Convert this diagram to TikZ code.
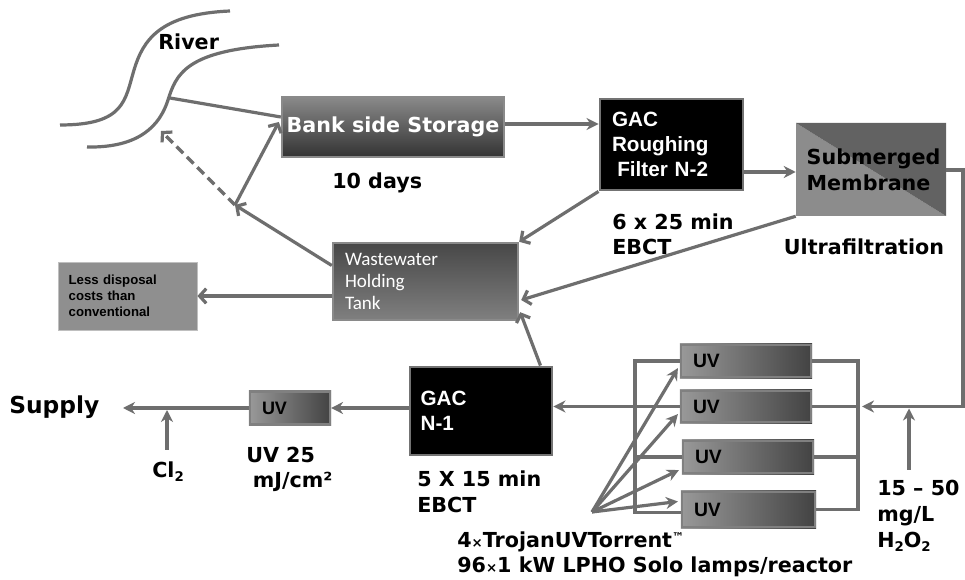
\documentclass[tikz,border=0pt]{standalone}
\usepackage{fontspec}
\usetikzlibrary{arrows.meta,calc,backgrounds}
\newfontfamily\dvs{DejaVu Sans}
\newfontfamily\lbs{Liberation Sans}
\newfontfamily\crl{Carlito}
\newcommand\subs[1]{\raisebox{-0.35ex}{\fontsize{10}{10}\selectfont #1}}
\definecolor{lc}{HTML}{6E6E6E}
\definecolor{bc}{HTML}{8A8A8A}
\definecolor{mlight}{HTML}{8C8C8C}
\definecolor{mdark}{HTML}{626262}
\tikzset{
  conn/.style={draw=lc, line width=2.4pt},
  arr/.style={conn, -{Stealth[length=9pt,width=9pt]}},
  barb/.style={conn, -{Straight Barb[length=5pt,width=11pt]}},
  lbl/.style={font=\dvs\bfseries\fontsize{15.5}{18.75}\selectfont, text=black, inner sep=0pt},
  gradbox/.style={draw=bc, line width=1.8pt, top color=bc, bottom color=black!80, inner sep=0pt},
  blackbox/.style={draw=black!55, line width=2.2pt, fill=black, text=white, inner sep=0pt,
    font=\lbs\bfseries\fontsize{15.5}{19}\selectfont, align=left},
  uvbox/.style={draw=black!50, line width=1.6pt,
    inner sep=0pt, inner xsep=9pt, minimum height=24pt, text width=79.5pt, align=left,
    text=black, font=\lbs\bfseries\fontsize{14.5}{18}\selectfont},
  uvshade/.style={left color=black!40, right color=black!74}
}
\begin{document}
\begin{tikzpicture}[x=0.75pt,y=-0.75pt]
\useasboundingbox (0,0) rectangle (965,580);

% river banks
\draw[lc, line width=2.4pt] (60,125) .. controls (125,125) and (125,100) .. (134,70)
   .. controls (143,40) and (160,14) .. (230,11);
\draw[lc, line width=2.4pt] (87,147) .. controls (140,148) and (160,125) .. (168,100)
   .. controls (176,75) and (185,50) .. (279,45);
\node[lbl, anchor=west] (river) at (158,42) {River};

% boxes
\node[gradbox, minimum width=166.5pt, minimum height=45pt, text=white,
  font=\dvs\bfseries\fontsize{15.5}{18}\selectfont] (bank) at (393,127) {Bank side Storage};
\node[lbl, anchor=west] (days) at (332,183) {10 days};

\node[blackbox, minimum height=68.25pt, inner xsep=9pt, text width=89.25pt] (gac2) at (671.5,144.5)
  {GAC\\Roughing\\\hspace*{4pt}Filter N-2};
\node[lbl, anchor=west, align=left] (ebct2) at (612,234.5) {6 x 25 min\\EBCT};

\node[minimum width=112.5pt, minimum height=69.75pt, inner sep=0pt, inner xsep=8pt,
  text width=96.5pt, align=left, text=black,
  font=\dvs\bfseries\fontsize{15.5}{19.5}\selectfont,
  path picture={
    \fill[mlight] (path picture bounding box.north west) -- (path picture bounding box.south west)
      -- (path picture bounding box.south east) -- cycle;
    \fill[mdark] (path picture bounding box.north west) -- (path picture bounding box.north east)
      -- (path picture bounding box.south east) -- cycle;}] (memb) at (871,169.5) {Submerged\\Membrane};
\node[lbl] (uf) at (864,247) {Ultrafiltration};

\node[draw=bc, line width=1.8pt, top color=black!72, bottom color=black!50, inner sep=0pt,
  minimum width=138.75pt, minimum height=57.75pt, inner xsep=9pt, text width=120.75pt,
  align=left, text=white, font=\crl\fontsize{14.3}{16.5}\selectfont] (tank) at (425.5,281.5)
  {Wastewater\\Holding\\Tank};

\node[draw=black!25, line width=0.6pt, fill=black!44, inner sep=0pt, minimum width=104.25pt,
  minimum height=51pt, inner xsep=8pt, text width=88.25pt, align=left, text=black,
  font=\lbs\bfseries\fontsize{9.9}{12}\selectfont] (less) at (127.5,296)
  {Less disposal\\costs than\\conventional};

\node[blackbox, minimum height=66pt, inner xsep=8pt, text width=90.5pt] (gac1) at (481,411) {GAC\\N-1};
\node[lbl, anchor=west, align=left, font=\dvs\bfseries\fontsize{15.5}{19.5}\selectfont] (ebct1) at (417,492) {5 X 15 min\\EBCT};

\node[uvbox, text width=42pt, minimum height=24.75pt, font=\lbs\bfseries\fontsize{13.5}{16}\selectfont] (uvs) at (290,408) {UV};
\node[lbl, anchor=west, align=left] (uvd) at (246,469.5) {UV 25\\\hspace*{5pt}mJ/cm²};

\node[uvbox] (uv1) at (746,361) {UV};
\node[uvbox, minimum height=23.25pt] (uv2) at (746,406.5) {UV};
\node[uvbox] (uv3) at (748,457) {UV};
\node[uvbox, text width=81.75pt, minimum height=26.25pt] (uv4) at (748.5,509.5) {UV};

\begin{scope}[on background layer]
  \fill[white] (0,0) rectangle (965,580);
  \shade[uvshade] (uvs.south west) rectangle (uvs.north east);
  \shade[uvshade] (uv1.south west) rectangle (uv1.north east);
  \shade[uvshade] (uv2.south west) rectangle (uv2.north east);
  \shade[uvshade] (uv3.south west) rectangle (uv3.north east);
  \shade[uvshade] (uv4.south west) rectangle (uv4.north east);
\end{scope}

\node[lbl, anchor=west, font=\dvs\bfseries\fontsize{17.5}{20}\selectfont] (supply) at (9,407) {Supply};
\node[lbl, anchor=west] (cl) at (152,472) {Cl\subs{2}};
\node[lbl, anchor=west, align=left] (trojan) at (457,554.5)
  {4{\fontsize{10}{10}\selectfont ×}TrojanUVTorrent\raisebox{0.55ex}{\fontsize{9}{9}\selectfont ™}\\96{\fontsize{10}{10}\selectfont ×}1 kW LPHO Solo lamps/reactor};
\node[lbl, anchor=west, align=left, font=\dvs\bfseries\fontsize{15.5}{19.5}\selectfont] (h2o2) at (877,516)
  {15 – 50\\mg/L\\H\subs{2}O\subs{2}};

% coordinates
\coordinate (r1) at (170,98);
\coordinate (r2) at (161,131);
\coordinate (j) at (235,205);
\coordinate (g2o) at ($(gac2.east)+(0,27.5)$);
\coordinate (mo) at ($(memb.east)+(0,0.5)$);
\coordinate (rc) at (963,0);
\coordinate (rcx) at (858,0);
\coordinate (lcx) at (635,0);
\coordinate (hs) at (909,470);
\coordinate (cs) at (167,450);
\coordinate (sp) at (123,0);
\coordinate (fo) at (592,512);

% connectors
\draw[conn] (r1) -- ($(bank.west)+(0,-10)$);
\draw[barb] ($(tank.west)+(0,-16)$) -- (j);
\draw[barb] (j) -- ($(bank.west)+(-2,-5)$);
\draw[barb, dash pattern=on 7pt off 4pt] (j) -- (r2);
\draw[arr] ($(bank.east)+(0,-3)$) -- ($(gac2.west |- bank.east)+(0,-3)$);
\draw[arr] (g2o) -- (g2o -| memb.west);
\draw[barb] (gac2.south west) -- (tank.north east);
\draw[barb] (memb.south west) -- ($(tank.east)+(2,18.5)$);
\draw[arr] (mo) -- (mo -| rc) -- (uv2.east -| rc) -- ($(uv2.east -| rcx)+(4,0)$);
\draw[arr] (hs) -- ($(hs |- uv2.east)+(0,2)$);

\draw[conn] (uv1.east) -- (uv1.east -| rcx) -- (uv4.east -| rcx) -- (uv4.east);
\draw[conn] (uv2.east) -- (uv2.east -| rcx);
\draw[conn] (uv3.east) -- (uv3.east -| rcx);

\draw[conn] (uv1.west) -- (uv1.west -| lcx) -- ($(uv4.west -| lcx)+(0,3)$) -- ($(uv4.west)+(0,3)$);
\draw[conn] (uv3.west) -- (uv3.west -| lcx);
\draw[arr] (uv2.west) -- (uv2.west -| gac1.east);

\draw[arr] (fo) -- ($(uv1.south west)+(-2,-10)$);
\draw[arr] (fo) -- ($(uv2.south west)+(-2,-9)$);
\draw[arr] (fo) -- ($(uv3.south west)+(-3,-4)$);
\draw[arr] (fo) -- ($(uv4.west)+(-3,-8)$);

\draw[barb] ($(gac1.north east)+(-13,0)$) -- ($(tank.south east)+(1,-9)$);
\draw[barb] (less.east -| tank.west) -- (less.east);
\draw[arr] (uvs.east -| gac1.west) -- (uvs.east);
\draw[arr] (uvs.west) -- (uvs.west -| sp);
\draw[arr] (cs) -- ($(cs |- uvs.west)+(0,2)$);
\end{tikzpicture}
\end{document}
